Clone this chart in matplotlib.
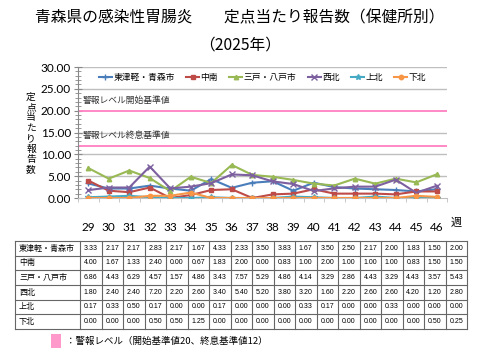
import matplotlib
matplotlib.use("Agg")
import matplotlib.pyplot as plt
from matplotlib.patches import Rectangle
import numpy as np

plt.rcParams['font.family'] = ['Noto Sans CJK JP', 'DejaVu Sans']

weeks = [29, 30, 31, 32, 33, 34, 35, 36, 37, 38, 39, 40, 41, 42, 43, 44, 45, 46]
regions = ["東津軽・青森市", "中南", "三戸・八戸市", "西北", "上北", "下北"]
higashi = [3.33, 2.17, 2.17, 2.83, 2.17, 1.67, 4.33, 2.33, 3.50, 3.83, 1.67, 3.50, 2.50, 2.17, 2.00, 1.83, 1.50, 2.00]
chunan = [4.00, 1.67, 1.33, 2.40, 0.00, 0.67, 1.83, 2.00, 0.00, 0.83, 1.00, 2.00, 1.00, 1.00, 1.00, 0.83, 1.50, 1.50]
sannohe = [6.86, 4.43, 6.29, 4.57, 1.57, 4.86, 3.43, 7.57, 5.29, 4.86, 4.14, 3.29, 2.86, 4.43, 3.29, 4.43, 3.57, 5.43]
seihoku = [1.80, 2.40, 2.40, 7.20, 2.20, 2.60, 3.40, 5.40, 5.20, 3.80, 3.20, 1.60, 2.20, 2.60, 2.60, 4.20, 1.20, 2.80]
kamikita = [0.17, 0.33, 0.50, 0.17, 0.00, 0.00, 0.17, 0.00, 0.00, 0.00, 0.33, 0.17, 0.00, 0.00, 0.33, 0.00, 0.00, 0.00]
shimokita = [0.00, 0.00, 0.00, 0.50, 0.50, 1.25, 0.00, 0.00, 0.00, 0.00, 0.00, 0.00, 0.00, 0.00, 0.00, 0.00, 0.50, 0.25]
series = [higashi, chunan, sannohe, seihoku, kamikita, shimokita]
colors = ["#4A7EBB", "#BE4B48", "#98B954", "#7D60A0", "#46AAC5", "#F79646"]
markers = ["+", "s", "^", "x", "*", "o"]
alert_start = 20
alert_end = 12

W, H = 480, 360
fig = plt.figure(figsize=(4.8, 3.6), dpi=100)
fig.patch.set_facecolor("white")

def fx(px):
    return px / W

def fy(py):
    return 1 - py / H

# Title
fig.text(fx(240), fy(18), "青森県の感染性胃腸炎　　定点当たり報告数（保健所別）",
         ha="center", va="center", fontsize=11.3)
fig.text(fx(240), fy(45), "（2025年）", ha="center", va="center", fontsize=11.3)

# Main axes
ax = fig.add_axes([fx(78), fy(198), fx(447) - fx(78), fy(67) - fy(198)])
x = np.arange(len(weeks))
ax.set_xlim(-0.5, len(weeks) - 0.5)
ax.set_ylim(0, 30)
for yv in [5, 10, 15, 25, 30]:
    ax.axhline(yv, color="#BFBFBF", lw=1.0, zorder=1)
ax.axhline(alert_start, color="#FF80C0", lw=1.3, zorder=2)
ax.axhline(alert_end, color="#FF80C0", lw=1.3, zorder=2)
ax.text(0.0 - 0.25, alert_start + 1.2, "警報レベル開始基準値", fontsize=6.3, va="bottom", ha="left", color="#333333")
ax.text(0.0 - 0.25, alert_end + 1.2, "警報レベル終息基準値", fontsize=6.3, va="bottom", ha="left", color="#333333")

handles = []
for s, c, m, name in zip(series, colors, markers, regions):
    ms = 4.0 if m in ("+", "x", "*") else 3.2
    h, = ax.plot(x, s, color=c, marker=m, ms=ms, lw=1.5, mew=1.0, label=name, zorder=3)
    handles.append(h)

for sp in ["top", "right"]:
    ax.spines[sp].set_visible(False)
ax.spines["left"].set_color("#888888")
ax.spines["bottom"].set_color("#BFBFBF")
ax.set_yticks([0, 5, 10, 15, 20, 25, 30])
ax.set_yticklabels(["%.2f" % v for v in [0, 5, 10, 15, 20, 25, 30]], fontsize=8.5, family=["Lato", "DejaVu Sans"])
ax.set_yticks(np.arange(0, 31, 1), minor=True)
ax.tick_params(axis="y", which="major", direction="inout", length=6, color="#888888", pad=2)
ax.tick_params(axis="y", which="minor", direction="inout", length=4, color="#888888")
ax.set_xticks(x)
ax.set_xticklabels([str(w) for w in weeks], fontsize=8.5, family=["Lato", "DejaVu Sans"])
ax.set_xticks(np.arange(-0.5, len(weeks), 1), minor=True)
ax.tick_params(axis="x", which="major", length=0, pad=17)
ax.tick_params(axis="x", which="minor", direction="out", length=3, color="#BFBFBF")
fig.text(fx(456), fy(223), "週", fontsize=8, ha="center", va="center")

leg = ax.legend(handles=handles, loc="upper center", bbox_to_anchor=(0.5, 1.0), ncol=6,
                frameon=False, fontsize=6.3, handlelength=1.5, handletextpad=0.15,
                columnspacing=1.3, borderaxespad=0.3)

# Y label (vertical stacked)
fig.text(fx(31), fy(133), "\n".join("定点当たり報告数"), ha="center", va="center",
         fontsize=7, linespacing=1.05)

# Table
tax = fig.add_axes([0, 0, 1, 1])
tax.set_xlim(0, W)
tax.set_ylim(H, 0)
tax.axis("off")
tx0, tx1, tcol0 = 15, 467, 80
ty0, ty1 = 241, 329
nrows = len(regions)
ncols = len(weeks)
rh = (ty1 - ty0) / nrows
cw = (tx1 - tcol0) / ncols
for i in range(nrows + 1):
    tax.plot([tx0, tx1], [ty0 + i * rh] * 2, color="#666666", lw=0.8)
tax.plot([tx0, tx0], [ty0, ty1], color="#666666", lw=0.8)
for j in range(ncols + 1):
    xx = tcol0 + j * cw
    tax.plot([xx, xx], [ty0, ty1], color="#666666", lw=0.8)
for i, (name, s) in enumerate(zip(regions, series)):
    yc = ty0 + (i + 0.5) * rh
    tax.text(tx0 + 4, yc, name, fontsize=5.8, ha="left", va="center")
    for j, v in enumerate(s):
        tax.text(tcol0 + (j + 0.5) * cw, yc, "%.2f" % v, fontsize=5.0, ha="center", va="center",
                 family=["Liberation Sans", "DejaVu Sans"])

# Bottom note
tax.add_patch(Rectangle((51, 334), 10, 14, facecolor="#FF99CC", edgecolor="none"))
tax.text(66, 341, "：警報レベル（開始基準値20、終息基準値12）", fontsize=6.8, ha="left", va="center")

fig.savefig("out.png", dpi=100, facecolor="white")
